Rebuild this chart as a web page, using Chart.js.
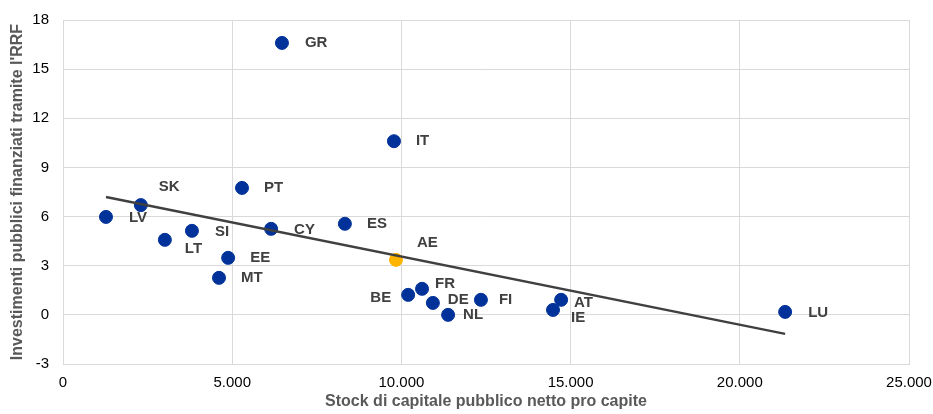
<!DOCTYPE html>
<html>
<head>
<meta charset="utf-8">
<script src="https://cdn.jsdelivr.net/npm/chart.js@4.4.1/dist/chart.umd.min.js"></script>
<style>
  html, body { margin: 0; padding: 0; background: #fff; }
  #wrap { width: 933px; height: 414px; }
</style>
</head>
<body>
<div id="wrap"><canvas id="rrfChart"></canvas></div>
<script>
// paesi e valori
var countries = ['GR', 'IT', 'PT', 'SK', 'LV', 'SI', 'LT', 'CY', 'ES', 'EE', 'MT', 'AE',
                 'BE', 'FR', 'DE', 'NL', 'FI', 'AT', 'IE', 'LU'];
var capitalStock = [6470, 9780, 5290, 2300, 1270, 3810, 3010, 6150, 8330, 4880, 4610, 9840,
                    10200, 10610, 10930, 11380, 12350, 14720, 14480, 21340];
var rrfInvestment = [16.6, 10.6, 7.75, 6.7, 5.98, 5.13, 4.58, 5.25, 5.56, 3.48, 2.26, 3.36,
                     1.22, 1.59, 0.73, 0.0, 0.92, 0.92, 0.3, 0.18];
var trendX = [1270, 21340];
var trendY = [7.2, -1.16];
var xTicks = [0, 5000, 10000, 15000, 20000, 25000];
var yTicks = [-3, 0, 3, 6, 9, 12, 15, 18];

// spostamento delle etichette rispetto al punto [dx, dy, allineamento]
var labelOffsets = {
    GR: [23, 0, 'left'], IT: [22, 0, 'left'], PT: [22, 0, 'left'], SK: [18, -18, 'left'],
    LV: [23, 1, 'left'], SI: [23, 1, 'left'], LT: [20, 9, 'left'], CY: [23, 1, 'left'],
    ES: [22, 0, 'left'], EE: [22, 0, 'left'], MT: [22, 0, 'left'], AE: [21, -17, 'left'],
    BE: [-17, 3, 'right'], FR: [13, -5, 'left'], DE: [15, -3, 'left'], NL: [15, 0, 'left'],
    FI: [18, 0, 'left'], AT: [13, 3, 'left'], IE: [18, 8, 'left'], LU: [23, 1, 'left']
};

var FONT = '"Liberation Sans", Arial, sans-serif';

function fmtThousands(v) {
    return String(v).replace(/\B(?=(\d{3})+(?!\d))/g, '.');
}

var points = countries.map(function (c, i) {
    return { x: capitalStock[i], y: rrfInvestment[i], label: c };
});
var pointColors = countries.map(function (c) {
    return c === 'AE' ? '#FFB400' : '#003299';
});

var labelPlugin = {
    id: 'pointLabels',
    afterDatasetsDraw: function (chart) {
        var ctx = chart.ctx;
        var meta = chart.getDatasetMeta(1);
        ctx.save();
        ctx.font = 'bold 15px ' + FONT;
        ctx.fillStyle = '#404040';
        ctx.textBaseline = 'middle';
        meta.data.forEach(function (el, i) {
            var name = countries[i];
            var off = labelOffsets[name];
            ctx.textAlign = off[2];
            ctx.fillText(name, el.x + off[0], el.y + off[1]);
        });
        ctx.restore();
    }
};

var ctx = document.getElementById('rrfChart').getContext('2d');
var chart = new Chart(ctx, {
    type: 'scatter',
    data: {
        datasets: [{
            type: 'line',
            data: trendX.map(function (x, i) { return { x: x, y: trendY[i] }; }),
            borderColor: '#404040',
            borderWidth: 2.5,
            pointRadius: 0,
            fill: false
        }, {
            data: points,
            backgroundColor: pointColors,
            borderColor: pointColors,
            pointRadius: 6.5,
            pointHoverRadius: 6.5
        }]
    },
    options: {
        responsive: true,
        maintainAspectRatio: false,
        animation: false,
        layout: { padding: { left: 8, right: 0, top: 20, bottom: 0 } },
        plugins: {
            legend: { display: false },
            tooltip: { enabled: false }
        },
        scales: {
            x: {
                type: 'linear',
                min: 0,
                max: 25000,
                afterBuildTicks: function (axis) {
                    axis.ticks = xTicks.map(function (v) { return { value: v }; });
                },
                afterFit: function (axis) {
                    axis.height = 50;
                    axis.paddingRight = 24;
                    axis.paddingLeft = 0;
                },
                ticks: {
                    color: '#000',
                    font: { family: FONT, size: 15 },
                    padding: 10,
                    maxRotation: 0,
                    callback: function (v) { return fmtThousands(v); }
                },
                grid: { color: '#d9d9d9', lineWidth: 1, drawTicks: false },
                border: { color: '#d9d9d9' },
                title: {
                    display: true,
                    text: 'Stock di capitale pubblico netto pro capite',
                    color: '#595959',
                    font: { family: FONT, size: 16, weight: 'bold' },
                    padding: { top: 0, bottom: 3 }
                }
            },
            y: {
                min: -3,
                max: 18,
                afterBuildTicks: function (axis) {
                    axis.ticks = yTicks.map(function (v) { return { value: v }; });
                },
                afterFit: function (axis) {
                    axis.width = 55;
                    axis.paddingTop = 0;
                    axis.paddingBottom = 0;
                },
                ticks: {
                    color: '#000',
                    font: { family: FONT, size: 15 },
                    padding: 14
                },
                grid: { color: '#d9d9d9', lineWidth: 1, drawTicks: false },
                border: { color: '#d9d9d9' },
                title: {
                    display: true,
                    text: "Investimenti pubblici finanziati tramite l'RRF",
                    color: '#595959',
                    font: { family: FONT, size: 16, weight: 'bold' },
                    padding: { top: 0, bottom: 4 }
                }
            }
        }
    },
    plugins: [labelPlugin]
});
</script>
</body>
</html>
